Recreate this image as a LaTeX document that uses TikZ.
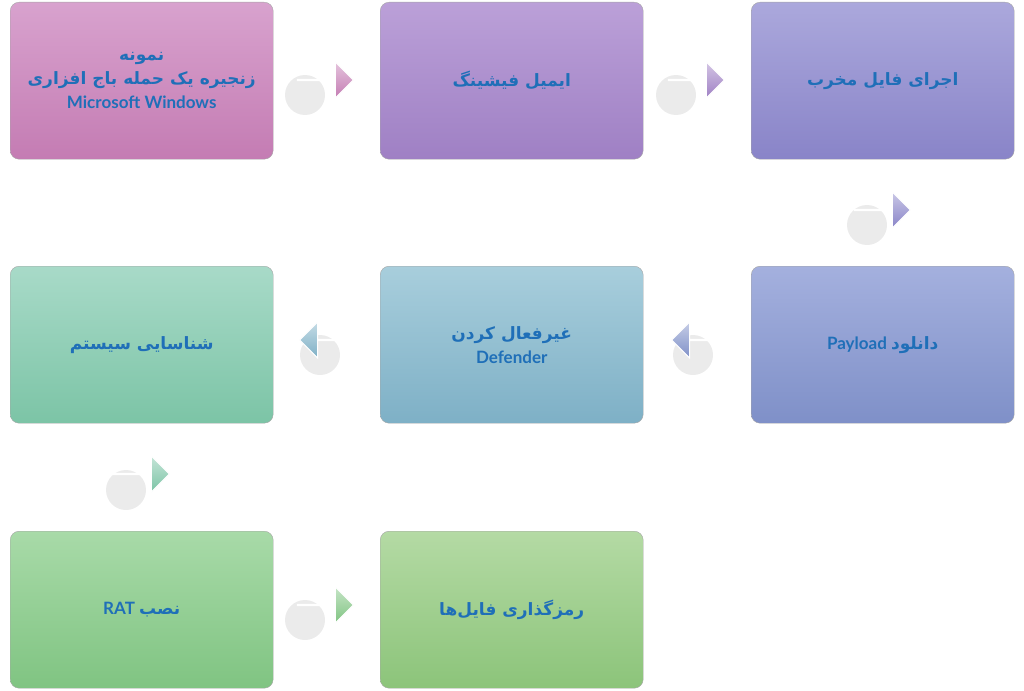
\documentclass[tikz,border=0pt]{standalone}
\usepackage{fontspec}
\setmainfont{Lato}
\newfontfamily\farsi[Script=Arabic]{DejaVu Sans}
\usetikzlibrary{shapes.arrows}
\TeXXeTstate=1
\newcommand{\fa}[1]{{\farsi\beginR #1\endR}}
\definecolor{txtblue}{HTML}{1F6FB8}
\definecolor{pinkA}{HTML}{D8A2CE}\definecolor{pinkB}{HTML}{C47CB3}
\definecolor{purA}{HTML}{BBA0D8}\definecolor{purB}{HTML}{9F80C4}
\definecolor{lavA}{HTML}{ABA8DC}\definecolor{lavB}{HTML}{8984C8}
\definecolor{bluA}{HTML}{A4B0DE}\definecolor{bluB}{HTML}{7F90C8}
\definecolor{cyaA}{HTML}{A8CEDC}\definecolor{cyaB}{HTML}{7EB0C6}
\definecolor{teaA}{HTML}{A8DAC8}\definecolor{teaB}{HTML}{7CC4A6}
\definecolor{grnA}{HTML}{A8DAA8}\definecolor{grnB}{HTML}{80C482}
\definecolor{limA}{HTML}{B4DAA4}\definecolor{limB}{HTML}{8CC47A}
\tikzset{
  step/.style args={#1/#2}{draw=gray!70, rounded corners=9pt, minimum width=263pt,
    minimum height=157pt, top color=#1, bottom color=#2, text=txtblue,
    font=\bfseries\fontsize{17}{24}\selectfont, align=center, anchor=north west},
  blk/.style args={#1/#2}{single arrow, single arrow head extend=12pt,
    minimum height=56pt, minimum width=36pt, inner sep=0pt, draw=white, line width=1pt,
    top color=#1!45!white, bottom color=#1, shape border rotate=#2},
  shade/.style={fill=gray!45, opacity=0.35, circle, minimum size=40pt, inner sep=0pt}
}
\begin{document}
\begin{tikzpicture}[x=1pt,y=-1pt]
\useasboundingbox (0,0) rectangle (1024,690);
% boxes
\node[step={pinkA/pinkB}] (sample) at (10,2) {\fa{نمونه}\\ \fa{زنجیره یک حمله باج افزاری}\\ Microsoft Windows};
\node[step={purA/purB}] (phish) at (380,2) {\fa{ایمیل فیشینگ}};
\node[step={lavA/lavB}] (exec) at (751,2) {\fa{اجرای فایل مخرب}};
\node[step={bluA/bluB}] (payload) at (751,266) {Payload \fa{دانلود}};
\node[step={cyaA/cyaB}] (defender) at (380,266) {\fa{غیرفعال کردن}\\ Defender};
\node[step={teaA/teaB}] (recon) at (10,266) {\fa{شناسایی سیستم}};
\node[step={grnA/grnB}] (rat) at (10,531) {RAT \fa{نصب}};
\node[step={limA/limB}] (encrypt) at (380,531) {\fa{رمزگذاری فایل‌ها}};
% shadows
\foreach \p in {(305,95),(676,95),(867,225),(320,355),(693,355),(126,490),(305,620)}
  \node[shade] at \p {};
% arrows
\node[blk={pinkB/0}] (a1) at (325,80) {};
\node[blk={purB/0}] (a2) at (696,80) {};
\node[blk={lavB/-90}] (a3) at (882,210) {};
\node[blk={bluB/180}] (a4) at (700,340) {};
\node[blk={cyaB/180}] (a5) at (328,340) {};
\node[blk={teaB/-90}] (a6) at (141,474) {};
\node[blk={grnB/0}] (a7) at (325,605) {};
\end{tikzpicture}
\end{document}
